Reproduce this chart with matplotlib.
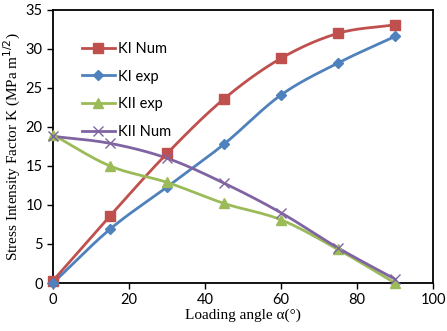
import numpy as np
import matplotlib
matplotlib.use("Agg")
import matplotlib.pyplot as plt

angles = [0, 15, 30, 45, 60, 75, 90]
ki_num = [0.3, 8.6, 16.6, 23.6, 28.8, 32.0, 33.1]
ki_exp = [0.0, 6.9, 12.3, 17.8, 24.1, 28.2, 31.6]
kii_exp = [19.0, 15.0, 12.9, 10.2, 8.1, 4.3, 0.0]
kii_num = [18.8, 17.9, 16.0, 12.8, 9.0, 4.5, 0.5]

series = [
    ("KI Num", ki_num, "#C0504D", "s", 7, 0),
    ("KI exp", ki_exp, "#4F81BD", "D", 5, 0),
    ("KII exp", kii_exp, "#9BBB59", "^", 7.5, 0),
    ("KII Num", kii_num, "#8064A2", "x", 7, 1.0),
]


def smooth(x, y, n=30):
    # Catmull-Rom spline through the points (Excel-like smoothed line)
    x = np.asarray(x, float)
    y = np.asarray(y, float)
    P = np.column_stack([x, y])
    P = np.vstack([P[0] - (P[1] - P[0]), P, P[-1] + (P[-1] - P[-2])])
    out = []
    for i in range(1, len(P) - 2):
        p0, p1, p2, p3 = P[i - 1], P[i], P[i + 1], P[i + 2]
        t = np.linspace(0, 1, n)[:, None]
        c1 = p1 + (p2 - p0) / 6
        c2 = p2 - (p3 - p1) / 6
        b = ((1 - t) ** 3) * p1 + 3 * ((1 - t) ** 2) * t * c1 + 3 * (1 - t) * t ** 2 * c2 + t ** 3 * p2
        out.append(b)
    out = np.vstack(out)
    return out[:, 0], out[:, 1]


fig = plt.figure(figsize=(4.47, 3.31), dpi=100)
ax = fig.add_axes([0.1186, 0.145, 0.8501, 0.825])

for label, vals, color, marker, ms, mew in series:
    sx, sy = smooth(angles, vals)
    ax.plot(sx, sy, color=color, lw=2.0, clip_on=False, zorder=2)
    ax.plot(angles, vals, linestyle="none", marker=marker, color=color,
            markersize=ms, markeredgewidth=mew if mew else 1.0, clip_on=False, zorder=3)
    # legend proxy
    ax.plot([], [], color=color, lw=2.0, marker=marker, markersize=ms,
            markeredgewidth=mew if mew else 1.0, label=label)

ax.set_xlim(0, 100)
ax.set_ylim(0, 35)
ax.set_xticks(range(0, 101, 20))
ax.set_yticks(range(0, 36, 5))

for lab in ax.get_xticklabels() + ax.get_yticklabels():
    lab.set_fontfamily("Lato")
    lab.set_fontsize(10.5)

ax.tick_params(direction="out", length=4, width=1.0, colors="black")
for s in ax.spines.values():
    s.set_linewidth(1.3)
    s.set_color("black")

ax.set_xlabel("Loading angle α(°)", family="Liberation Serif", fontsize=11, labelpad=1)
ax.set_ylabel("Stress Intensity Factor K (MPa m$^{1/2}$)", family="Liberation Serif",
              fontsize=11, labelpad=2)

leg = ax.legend(loc="upper left", bbox_to_anchor=(0.06, 0.905), frameon=False,
                prop={"family": "Lato", "size": 10.5}, handlelength=2.3,
                handletextpad=0.2, labelspacing=0.95, borderaxespad=0)

fig.savefig("out.png", dpi=100)
